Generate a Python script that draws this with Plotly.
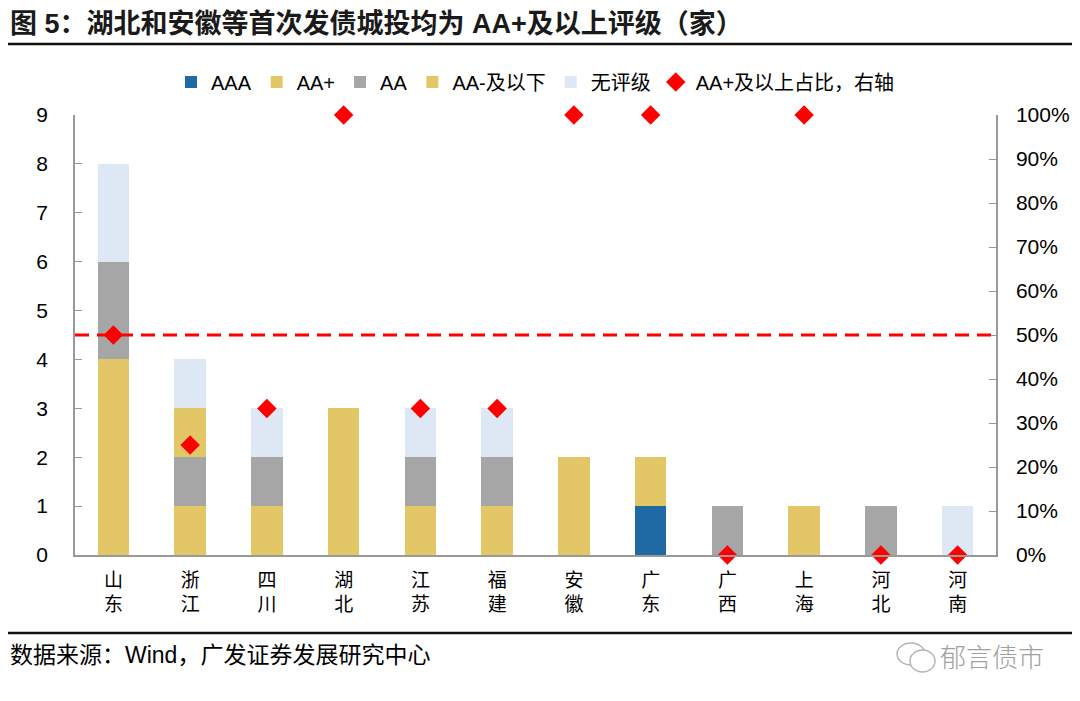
import plotly.graph_objects as go

categories = ["山东", "浙江", "四川", "湖北", "江苏", "福建", "安徽", "广东", "广西", "上海", "河北", "河南"]
aaa = [0, 0, 0, 0, 0, 0, 0, 1, 0, 0, 0, 0]
aa_plus = [4, 1, 1, 3, 1, 1, 2, 1, 0, 1, 0, 0]
aa = [2, 1, 1, 0, 1, 1, 0, 0, 1, 0, 1, 0]
aa_minus = [0, 1, 0, 0, 0, 0, 0, 0, 0, 0, 0, 0]
no_rating = [2, 1, 1, 0, 1, 1, 0, 0, 0, 0, 0, 1]
ratio = [0.5, 0.25, 0.333, 1.0, 0.333, 0.333, 1.0, 1.0, 0.0, 1.0, 0.0, 0.0]
ref_line = 0.5

x_labels = [c[0] + "<br>" + c[1] for c in categories]

FONT = "Liberation Sans, Arial, Noto Sans CJK SC, sans-serif"
CJK = "Noto Sans CJK SC, sans-serif"

# page body adds an 8px margin; figure is sized/offset to compensate
PLOT_L, PLOT_T, PLOT_W, PLOT_H = 75, 115, 921, 440
def px(x):
    return (x - PLOT_L) / PLOT_W
def py(y):
    return (PLOT_T + PLOT_H - y) / PLOT_H

fig = go.Figure()
series = [
    ("AAA", aaa, "#1F6AA5"),
    ("AA+", aa_plus, "#E3C766"),
    ("AA", aa, "#A6A6A6"),
    ("AA-及以下", aa_minus, "#E3C766"),
    ("无评级", no_rating, "#DEE8F4"),
]
for name, vals, col in series:
    fig.add_trace(go.Bar(x=x_labels, y=vals, name=name, marker=dict(color=col, line=dict(width=0)),
                         width=0.41))

fig.add_trace(go.Scatter(x=x_labels, y=ratio, name="AA+及以上占比，右轴", mode="markers",
                         yaxis="y2", cliponaxis=False,
                         marker=dict(symbol="diamond", size=15, color="#FF0000")))

fig.add_shape(type="line", xref="paper", yref="y2", x0=0, x1=1, y0=ref_line, y1=ref_line,
              line=dict(color="#FF0000", width=3, dash="14px,8px"), layer="above")

# horizontal rules
fig.add_shape(type="line", xref="paper", yref="paper", x0=px(0), x1=px(1080), y0=py(44), y1=py(44),
              line=dict(color="#111111", width=2.5))
fig.add_shape(type="line", xref="paper", yref="paper", x0=px(0), x1=px(1080), y0=py(633), y1=py(633),
              line=dict(color="#111111", width=2.5))

# simple chat-bubble icon next to watermark
fig.add_shape(type="circle", xref="paper", yref="paper", x0=px(897), x1=px(925), y0=py(665), y1=py(643),
              line=dict(color="#b5b5b5", width=1.5), fillcolor="white")
fig.add_shape(type="circle", xref="paper", yref="paper", x0=px(910), x1=px(935), y0=py(672), y1=py(650),
              line=dict(color="#b5b5b5", width=1.5), fillcolor="white")

fig.update_layout(
    width=1064, height=685,
    margin=dict(l=67, r=76, t=107, b=138),
    paper_bgcolor="white", plot_bgcolor="white",
    barmode="stack", bargap=0.59,
    showlegend=True,
    legend=dict(orientation="h", x=0.5, xanchor="center", y=py(82), yanchor="middle",
                traceorder="normal", font=dict(family=FONT, size=20, color="#000"),
                itemwidth=30),
    font=dict(family=FONT, size=20, color="#000"),
    xaxis=dict(range=[-0.5, 11.5], showline=True, linecolor="#999", linewidth=1.5, ticks="",
               tickfont=dict(family=CJK, size=19, color="#000"), showgrid=False, automargin=False,
               ticklabelstandoff=7),
    yaxis=dict(range=[0, 9], dtick=1, showline=True, linecolor="#999", linewidth=1.5,
               ticks="inside", ticklen=7, tickcolor="#999", showgrid=False, zeroline=False,
               tickfont=dict(size=21), ticklabelstandoff=21, automargin=False),
    yaxis2=dict(range=[0, 1], dtick=0.1, tickformat=".0%", overlaying="y", side="right",
                showline=True, linecolor="#999", linewidth=1.5, ticks="inside", ticklen=7,
                tickcolor="#999", showgrid=False, zeroline=False, tickfont=dict(size=21),
                ticklabelstandoff=14, automargin=False),
)

fig.add_annotation(text="<b>图 5：湖北和安徽等首次发债城投均为 AA+及以上评级（家）</b>",
                   xref="paper", yref="paper", x=px(8), y=py(23), xanchor="left", yanchor="middle",
                   showarrow=False, font=dict(family=FONT, size=27, color="#1a1a1a"))
fig.add_annotation(text="数据来源：Wind，广发证券发展研究中心", xref="paper", yref="paper",
                   x=px(8), y=py(655), xanchor="left", yanchor="middle", showarrow=False,
                   font=dict(family=FONT, size=23, color="#000"))
fig.add_annotation(text="郁言债市", xref="paper", yref="paper", x=px(1046), y=py(655),
                   xanchor="right", yanchor="middle", showarrow=False,
                   font=dict(family=CJK, size=26, color="#a0a0a0", weight=300))

fig.write_html("out.html")
